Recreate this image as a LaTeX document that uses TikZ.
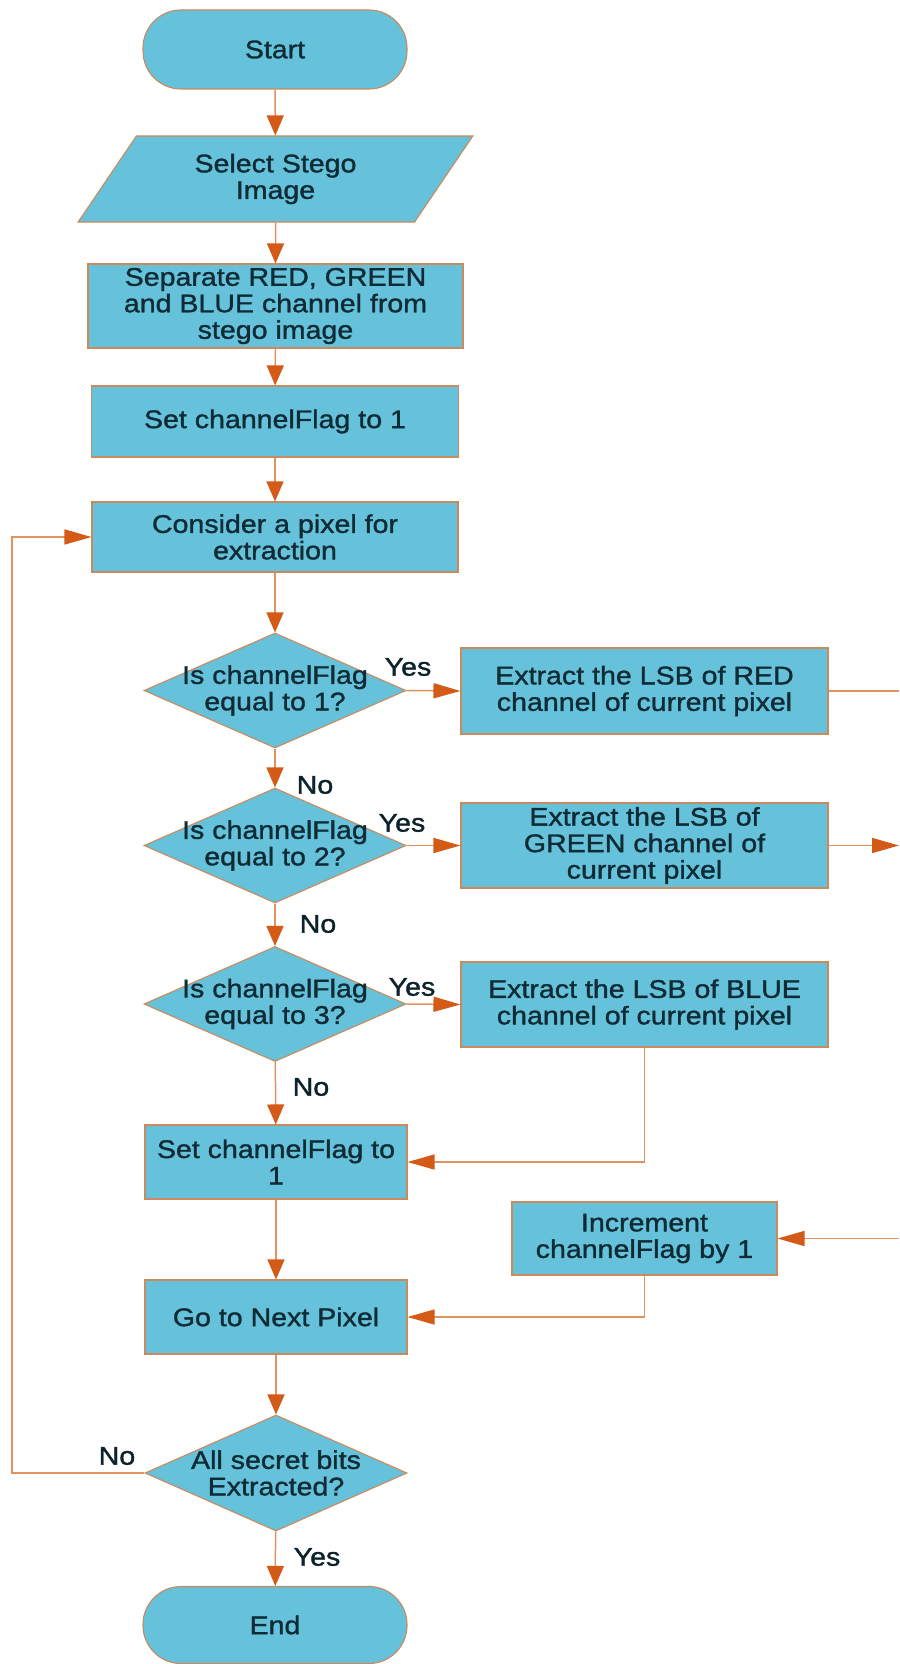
\documentclass[tikz,border=0pt]{standalone}
\usepackage{fontspec}
\setmainfont{Liberation Sans}[FakeStretch=1.12,FakeBold=1.3]
\usetikzlibrary{arrows.meta,shapes.geometric}
\definecolor{boxfill}{HTML}{66C2DA}
\definecolor{boxline}{HTML}{C98A5E}
\definecolor{conline}{HTML}{E2925F}
\definecolor{tipcol}{HTML}{D35A17}
\definecolor{txtcol}{HTML}{0F2C36}
\tikzset{
  base/.style={draw=boxline, line width=1.1pt, fill=boxfill, inner sep=0pt, align=center,
    text=txtcol, font=\fontsize{25.5}{26.5}\selectfont},
  term/.style={base, rectangle, rounded corners=38pt},
  procbox/.style={base, rectangle},
  iobox/.style={base, trapezium, trapezium left angle=56, trapezium right angle=124,
    trapezium stretches=true},
  decbox/.style={base, diamond},
  dtext/.style={align=center, text=txtcol, inner sep=0pt, font=\fontsize{25.5}{26.5}\selectfont},
  lbl/.style={text=txtcol!80!black, inner sep=0pt, font=\fontsize{25.5}{26.5}\selectfont},
  conn/.style={draw=conline, line width=1.5pt},
  varr/.style={conn, -{Triangle[length=20pt,width=17pt,fill=tipcol,color=tipcol]}},
  harr/.style={conn, -{Triangle[length=27pt,width=15pt,fill=tipcol,color=tipcol]}},
}
\begin{document}
\begin{tikzpicture}[x=1pt,y=-1pt]
\fill[white] (0,0) rectangle (899,1664);
\useasboundingbox (0,0) rectangle (899,1664);

\node[term, minimum width=264pt, minimum height=79pt] (start) at (275,49.5) {Start};
\node[iobox, minimum width=395pt, minimum height=86pt] (select) at (275.5,179) {Select Stego\\Image};
\node[procbox, minimum width=375pt, minimum height=84pt] (sep) at (275.5,306) {Separate RED, GREEN\\and BLUE channel from\\stego image};
\node[procbox, minimum width=367pt, minimum height=71pt] (setflag) at (275,421.5) {Set channelFlag to 1};
\node[procbox, minimum width=366pt, minimum height=70pt] (consider) at (275,537) {Consider a pixel for\\extraction};

\node[decbox, minimum width=262pt, minimum height=115pt,
  label={[dtext]center:Is channelFlag\\equal to 1?}] (d1) at (275,690.5) {};
\node[decbox, minimum width=262pt, minimum height=115pt,
  label={[dtext]center:Is channelFlag\\equal to 2?}] (d2) at (275,845.5) {};
\node[decbox, minimum width=262pt, minimum height=115pt,
  label={[dtext]center:Is channelFlag\\equal to 3?}] (d3) at (275,1004) {};

\node[procbox, minimum width=367pt, minimum height=86pt] (red) at (644.5,691) {Extract the LSB of RED\\channel of current pixel};
\node[procbox, minimum width=367pt, minimum height=85pt] (green) at (644.5,845.5) {Extract the LSB of\\GREEN channel of\\current pixel};
\node[procbox, minimum width=367pt, minimum height=85pt] (blue) at (644.5,1004.5) {Extract the LSB of BLUE\\channel of current pixel};

\node[procbox, minimum width=262pt, minimum height=74pt] (set1) at (276,1162) {Set channelFlag to\\1};
\node[procbox, minimum width=265pt, minimum height=73pt] (inc) at (644.5,1238.5) {Increment\\channelFlag by 1};
\node[procbox, minimum width=262pt, minimum height=74pt] (go) at (276,1317) {Go to Next Pixel};

\node[decbox, minimum width=262pt, minimum height=116pt,
  label={[dtext]center:All secret bits\\Extracted?}] (d4) at (276,1473) {};
\node[term, minimum width=264pt, minimum height=77pt] (end) at (275,1625) {End};

\coordinate (redout) at (899,691);
\coordinate (greenout) at (899,845.5);
\coordinate (incin) at (899,1238.5);
\coordinate (loopc) at (12,1473);

% main column
\draw[varr] (start) -- (select);
\draw[varr] (select) -- (sep);
\draw[varr] (sep) -- (setflag);
\draw[varr] (setflag) -- (consider);
\draw[varr] (consider) -- (d1);
\draw[varr] (d1) -- (d2);
\draw[varr] (d2) -- (d3);
\draw[varr] (d3) -- (set1);
\draw[varr] (set1) -- (go);
\draw[varr] (go) -- (d4);
\draw[varr] (d4) -- (end);

% yes branches
\draw[harr] (d1.east) -- (red.west);
\draw[harr] (d2.east) -- (green.west);
\draw[harr] (d3.east) -- (blue.west);
\draw[conn] (red.east) -- (redout);
\draw[harr] (green.east) -- (greenout);
\draw[harr] (incin) -- (inc.east);
\draw[harr] (blue.south) |- (set1.east);
\draw[harr] (inc.south) |- (go.east);
\draw[harr] (d4.west) -- (loopc) |- (consider.west);

% labels
\node[lbl] (y1) at (408,667) {Yes};
\node[lbl] (n1) at (315,785) {No};
\node[lbl] (y2) at (402,823) {Yes};
\node[lbl] (n2) at (318,924) {No};
\node[lbl] (y3) at (412,987) {Yes};
\node[lbl] (n3) at (311,1087) {No};
\node[lbl] (n4) at (117,1456) {No};
\node[lbl] (y4) at (317,1557) {Yes};
\end{tikzpicture}
\end{document}
